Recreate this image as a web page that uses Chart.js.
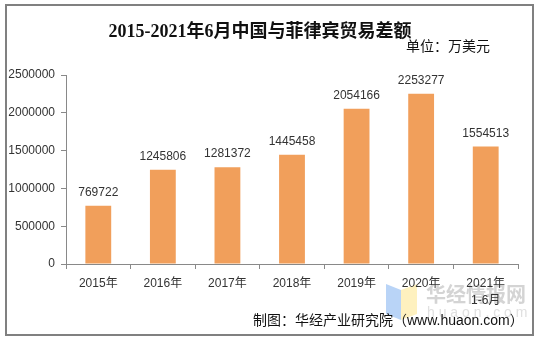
<!DOCTYPE html>
<html>
<head>
<meta charset="utf-8">
<script src="https://cdn.jsdelivr.net/npm/chart.js@4/dist/chart.umd.min.js"></script>
<style>
  body { margin: 0; background: #fff; }
  canvas { display: block; }
</style>
</head>
<body>
<canvas id="chart" width="541" height="341"></canvas>
<script>
const years = ['2015年', '2016年', '2017年', '2018年', '2019年', '2020年', ['2021年', '1-6月']];
const balance = [769722, 1245806, 1281372, 1445458, 2054166, 2253277, 1554513];
const yTicks = [0, 500000, 1000000, 1500000, 2000000, 2500000];

const textColor = '#333333';
const axisColor = '#898989';
const cjk = '"Liberation Sans", "Noto Sans CJK SC", sans-serif';

// frame, headings, source and watermark
const decorPlugin = {
    id: 'decor',
    beforeDraw(chart) {
        const ctx = chart.ctx;
        ctx.save();
        ctx.fillStyle = '#fff';
        ctx.fillRect(0, 0, chart.width, chart.height);
        ctx.strokeStyle = '#808080';
        ctx.lineWidth = 2;
        ctx.strokeRect(6, 5, 527, 330);

        // watermark logo
        ctx.globalAlpha = 0.55;
        ctx.fillStyle = '#7fb0f0';
        ctx.beginPath();
        ctx.moveTo(386, 284); ctx.lineTo(401, 290); ctx.lineTo(401, 320); ctx.lineTo(386, 314);
        ctx.closePath(); ctx.fill();
        ctx.fillStyle = '#fde58a';
        ctx.beginPath();
        ctx.moveTo(401, 290); ctx.lineTo(417, 284); ctx.lineTo(417, 314); ctx.lineTo(401, 320);
        ctx.closePath(); ctx.fill();
        ctx.globalAlpha = 1;
        ctx.fillStyle = '#d4d4d4';
        ctx.font = 'bold 20px "Noto Sans CJK SC", sans-serif';
        ctx.textAlign = 'left';
        ctx.textBaseline = 'middle';
        ctx.fillText('华经情报网', 426, 294);
        ctx.font = '14px "Liberation Sans", sans-serif';
        ctx.fillStyle = '#e0e0e0';
        ctx.fillText('h u a o n . c o m', 427, 313);
        ctx.restore();
    },
    afterDraw(chart) {
        const ctx = chart.ctx;
        ctx.save();
        ctx.fillStyle = '#111';
        ctx.textBaseline = 'middle';
        ctx.textAlign = 'center';
        ctx.font = 'bold 18px "Liberation Serif", "Noto Sans CJK SC", serif';
        ctx.fillText('2015-2021年6月中国与菲律宾贸易差额', 260, 32);
        ctx.textAlign = 'right';
        ctx.font = '14px ' + cjk;
        ctx.fillText('单位：万美元', 490, 47);
        ctx.textAlign = 'left';
        ctx.fillText('制图：华经产业研究院（www.huaon.com）', 253, 321);
        ctx.restore();
    }
};

const valueLabels = {
    id: 'valueLabels',
    afterDatasetsDraw(chart) {
        const ctx = chart.ctx;
        const meta = chart.getDatasetMeta(0);
        ctx.save();
        ctx.fillStyle = textColor;
        ctx.font = '12px "Liberation Sans", Arial, sans-serif';
        ctx.textAlign = 'center';
        ctx.textBaseline = 'bottom';
        meta.data.forEach((bar, i) => {
            ctx.fillText(balance[i], bar.x, bar.y - 7);
        });
        ctx.restore();
    }
};

new Chart(document.getElementById('chart'), {
    type: 'bar',
    data: {
        labels: years,
        datasets: [{
            data: balance,
            backgroundColor: '#f19f5b',
            categoryPercentage: 1,
            barPercentage: 0.4
        }]
    },
    options: {
        responsive: false,
        animation: false,
        layout: { padding: { left: 0, right: 23, top: 75, bottom: 0 } },
        plugins: {
            legend: { display: false },
            tooltip: { enabled: false }
        },
        scales: {
            x: {
                grid: { drawOnChartArea: false, color: axisColor, tickLength: 5 },
                border: { color: axisColor },
                ticks: {
                    color: textColor,
                    padding: 6,
                    font: { size: 12, family: cjk, lineHeight: 1.4 },
                    maxRotation: 0
                },
                afterFit(scale) { scale.height = 77; }
            },
            y: {
                min: 0,
                max: 2500000,
                afterBuildTicks(scale) { scale.ticks = yTicks.map(v => ({ value: v })); },
                grid: { drawOnChartArea: false, color: axisColor, tickLength: 5 },
                border: { color: axisColor },
                ticks: {
                    color: textColor,
                    padding: 6,
                    font: { size: 12, family: '"Liberation Sans", Arial, sans-serif' },
                    callback: v => String(v)
                },
                afterFit(scale) { scale.width = 66; }
            }
        }
    },
    plugins: [decorPlugin, valueLabels]
});
</script>
</body>
</html>
